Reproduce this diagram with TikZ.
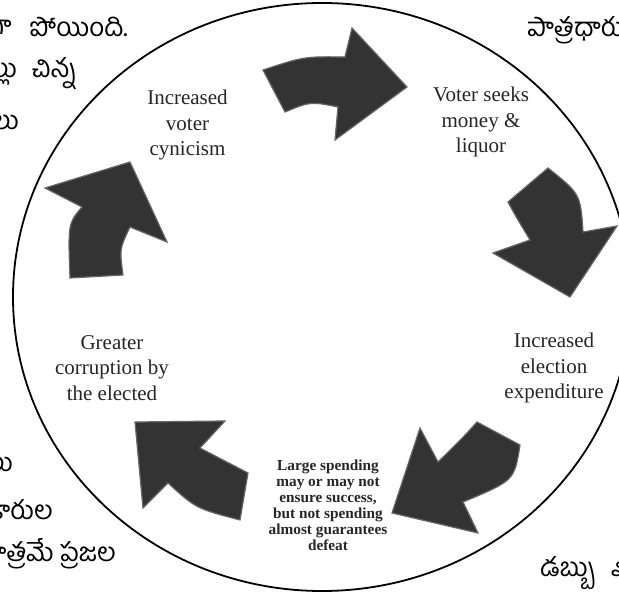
\documentclass[tikz,border=0pt]{standalone}
\usepackage{fontspec}
\setmainfont{Liberation Serif}
\newfontfamily\telugu[Script=Telugu]{Hind Guntur}
\begin{document}
\begin{tikzpicture}[x=1pt,y=-1pt,
  arrowshape/.style={fill=arrfill,draw=arredge,line width=1.2pt,line join=miter},
  lbl/.style={align=center,text=black!85,font=\fontsize{21}{25.5}\selectfont,inner sep=0pt},
  small/.style={align=center,text=black!85,font=\bfseries\fontsize{15.3}{16}\selectfont,inner sep=0pt},
  tel/.style={text=black,font=\telugu\fontsize{26}{30}\selectfont,inner sep=0pt}]
\definecolor{arrfill}{HTML}{333333}
\definecolor{arredge}{HTML}{666666}
\useasboundingbox (0,0) rectangle (619,593);
\clip (0,0) rectangle (619,593);
\fill[white] (0,0) rectangle (619,593);
% big circle
\draw[line width=1.8pt] (322,297) ellipse [x radius=309, y radius=294];
% arrow 1 (top, pointing right)
\draw[arrowshape] (263,70) .. controls (304,56.5) .. (345,57) -- (352,28) -- (407,87) -- (335,140) -- (338,107)
  .. controls (310.5,101.5) .. (285,112) -- cycle;
% arrow 2 (upper right, pointing down)
\draw[arrowshape] (548,168) .. controls (580.5,194) .. (583,232) -- (617,226) -- (570,297) -- (493,253) -- (530,240)
  .. controls (515,215) .. (508,202) -- cycle;
% arrow 3 (lower right, pointing down-left)
\draw[arrowshape] (520,445) .. controls (514.5,480.5) .. (463,502) -- (478,533) -- (392,513) -- (420,428) -- (438,462)
  .. controls (462.5,438) .. (477,422) -- cycle;
% arrow 4 (bottom left, pointing up-left)
\draw[arrowshape] (135,422) -- (225,421) -- (200,448) .. controls (222,459.5) .. (248,473) -- (240,520)
  .. controls (196,508.5) .. (168,483) -- (143,508) -- cycle;
% arrow 5 (left, pointing up)
\draw[arrowshape] (70,278) .. controls (68,223.5) .. (82,207) -- (45,188) -- (130,162) -- (167,242) -- (130,227)
  .. controls (119.5,249) .. (123,275) -- cycle;
% labels
\node[lbl] (cyn) at (187.5,125) {Increased\\voter\\cynicism};
\node[lbl] (voter) at (481,122) {Voter seeks\\money \&\\liquor};
\node[lbl] (expend) at (554,368) {Increased\\election\\expenditure};
\node[small] (spend) at (328,505) {Large spending\\may or may not\\ensure success,\\but not spending\\almost guarantees\\defeat};
\node[lbl] (corr) at (112,368) {Greater\\corruption by\\the elected};
% surrounding page text (cropped at the edges, as in the reference)
\node[tel,anchor=east] (t1a) at (12,27) {గా};
\node[tel,anchor=west] (t1b) at (30,27) {పోయింది.};
\node[tel,anchor=east] (t2a) at (17,74) {ల్లు};
\node[tel,anchor=west] (t2b) at (32,74) {చిన్న};
\node[tel,anchor=east] (t3) at (19,122) {లు};
\node[tel,anchor=west] (t4) at (527,30) {పాత్రధారులు};
\node[tel,anchor=east] (t5) at (13,464) {లు};
\node[tel,anchor=east] (t6) at (53,510) {కారుల};
\node[tel,anchor=east] (t7) at (116,554) {మాత్రమే ప్రజల};
\node[tel,anchor=west] (t8a) at (540,573) {డబ్బు};
\node[tel,anchor=west] (t8b) at (611,573) {ఖర్చు};
\end{tikzpicture}
\end{document}
